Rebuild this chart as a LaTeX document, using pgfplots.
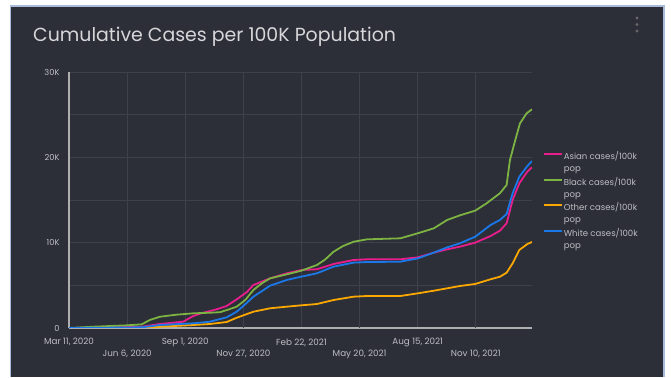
\documentclass[border=0pt]{standalone}
\usepackage{pgfplots}
\pgfplotsset{compat=1.18}
\usepackage{fontspec}
\setmainfont{Poppins}
\definecolor{panel}{RGB}{44,46,56}
\definecolor{gridc}{RGB}{62,65,75}
\definecolor{axisc}{RGB}{175,175,178}
\definecolor{tickc}{RGB}{190,190,195}
\definecolor{titlec}{RGB}{215,215,218}
\definecolor{borderc}{RGB}{170,186,218}
\definecolor{cpink}{RGB}{233,30,140}
\definecolor{cgreen}{RGB}{124,179,66}
\definecolor{corange}{RGB}{250,168,0}
\definecolor{cblue}{RGB}{26,120,232}
\begin{document}
\begin{tikzpicture}
\fill[white] (0,0) rectangle (671bp,377bp);
\fill[panel] (11bp,0) rectangle (663bp,370bp);
\draw[borderc, line width=1.5bp] (10.25bp,0) -- (10.25bp,370.75bp) -- (663.75bp,370.75bp) -- (663.75bp,0);
\node[anchor=base west, inner sep=0, text=titlec, font=\fontsize{19}{22}\selectfont] at (33bp,335bp) {Cumulative Cases per 100K Population};
\fill[gray!70!panel] (637bp,359bp) circle (1.6bp) (637bp,352.5bp) circle (1.6bp) (637bp,346bp) circle (1.6bp);
\begin{axis}[
  at={(69bp,49bp)}, anchor=south west,
  scale only axis, width=463bp, height=256bp,
  xmin=0, xmax=693, ymin=0, ymax=30000,
  axis lines*=left,
  x axis line style={draw=axisc, line width=1.8bp},
  y axis line style={draw=axisc, line width=1.2bp},
  major tick length=0pt, minor tick length=0pt,
  ytick={0,10000,20000,30000},
  yticklabels={0,10K,20K,30K},
  minor ytick={5000,15000,25000},
  ymajorgrids, yminorgrids, xmajorgrids,
  grid style={draw=gridc, line width=0.9bp},
  minor grid style={draw=gridc, line width=0.9bp},
  scaled y ticks=false,
  /pgf/number format/assume math mode=true,
  ticklabel style={text=tickc, font=\fontsize{8.8}{9}\selectfont},
  yticklabel style={xshift=-6bp, font=\fontsize{8.3}{9}\selectfont},
  xtick={0,174,348,522},
  xticklabels={{Mar 11, 2020},{Sep 1, 2020},{Feb 22, 2021},{Aug 15, 2021}},
  xticklabel style={yshift=-7bp},
  extra x ticks={87,261,435,609},
  extra x tick labels={{Jun 6, 2020},{Nov 27, 2020},{May 20, 2021},{Nov 10, 2021}},
  extra x tick style={xticklabel style={yshift=-11.5bp}},
  legend style={at={(1.0165,0.705)}, anchor=north west, draw=none, fill=none,
    text=tickc, font=\fontsize{8.6}{12.3}\selectfont, row sep=12.5bp,
    nodes={inner sep=1bp}},
  legend cell align=left,
  legend image code/.code={\path[draw=none,fill=none] (0bp,-6.5bp) -- (0bp,6.5bp); \draw[#1, line width=2bp] (0bp,2bp) -- (18bp,2bp);},
  every axis plot/.append style={line width=1.8bp, line join=round},
]
\addplot[cpink] coordinates {(0,0)(60,60)(109,150)(136,470)(171,740)(186,1410)(201,1790)(221,2190)(236,2580)(251,3360)(266,4200)(276,5040)(301,5820)(326,6410)(348,6800)(371,6880)(396,7500)(426,7970)(446,8050)(496,8050)(522,8280)(546,8830)(566,9220)(585,9530)(608,10000)(631,10780)(645,11400)(655,12270)(664,15000)(674,16950)(686,18320)(693,18830)};
\addlegendentry{\vtop{\hbox{Asian cases/100k}\hbox{pop}}}
\addplot[cgreen] coordinates {(0,0)(36,150)(86,310)(109,430)(121,940)(136,1320)(161,1560)(186,1720)(211,1790)(226,1850)(238,2150)(251,2500)(264,3300)(276,4450)(288,5200)(301,5820)(326,6290)(348,6720)(371,7380)(383,8000)(396,8940)(410,9600)(426,10110)(446,10390)(496,10510)(522,11100)(546,11680)(566,12660)(585,13200)(608,13750)(625,14610)(645,15790)(655,16760)(660,19690)(668,22030)(675,23990)(685,25160)(693,25630)};
\addlegendentry{\vtop{\hbox{Black cases/100k}\hbox{pop}}}
\addplot[corange] coordinates {(0,0)(109,30)(136,150)(186,350)(211,470)(236,700)(251,1200)(276,1910)(301,2310)(326,2500)(348,2660)(371,2810)(396,3280)(426,3670)(446,3750)(496,3750)(522,4060)(546,4370)(566,4650)(585,4920)(608,5160)(631,5710)(645,6010)(655,6480)(664,7580)(674,9140)(686,9840)(693,10080)};
\addlegendentry{\vtop{\hbox{Other cases/100k}\hbox{pop}}}
\addplot[cblue] coordinates {(0,0)(60,40)(109,80)(136,350)(186,550)(211,740)(226,1050)(236,1250)(251,1910)(264,2800)(276,3670)(301,4960)(326,5630)(348,6020)(371,6410)(396,7190)(426,7660)(446,7730)(496,7770)(522,8160)(546,8830)(566,9450)(585,9920)(608,10700)(631,12070)(645,12660)(655,13360)(664,15790)(674,17730)(686,18980)(693,19570)};
\addlegendentry{\vtop{\hbox{White cases/100k}\hbox{pop}}}
\end{axis}
\end{tikzpicture}
\end{document}
